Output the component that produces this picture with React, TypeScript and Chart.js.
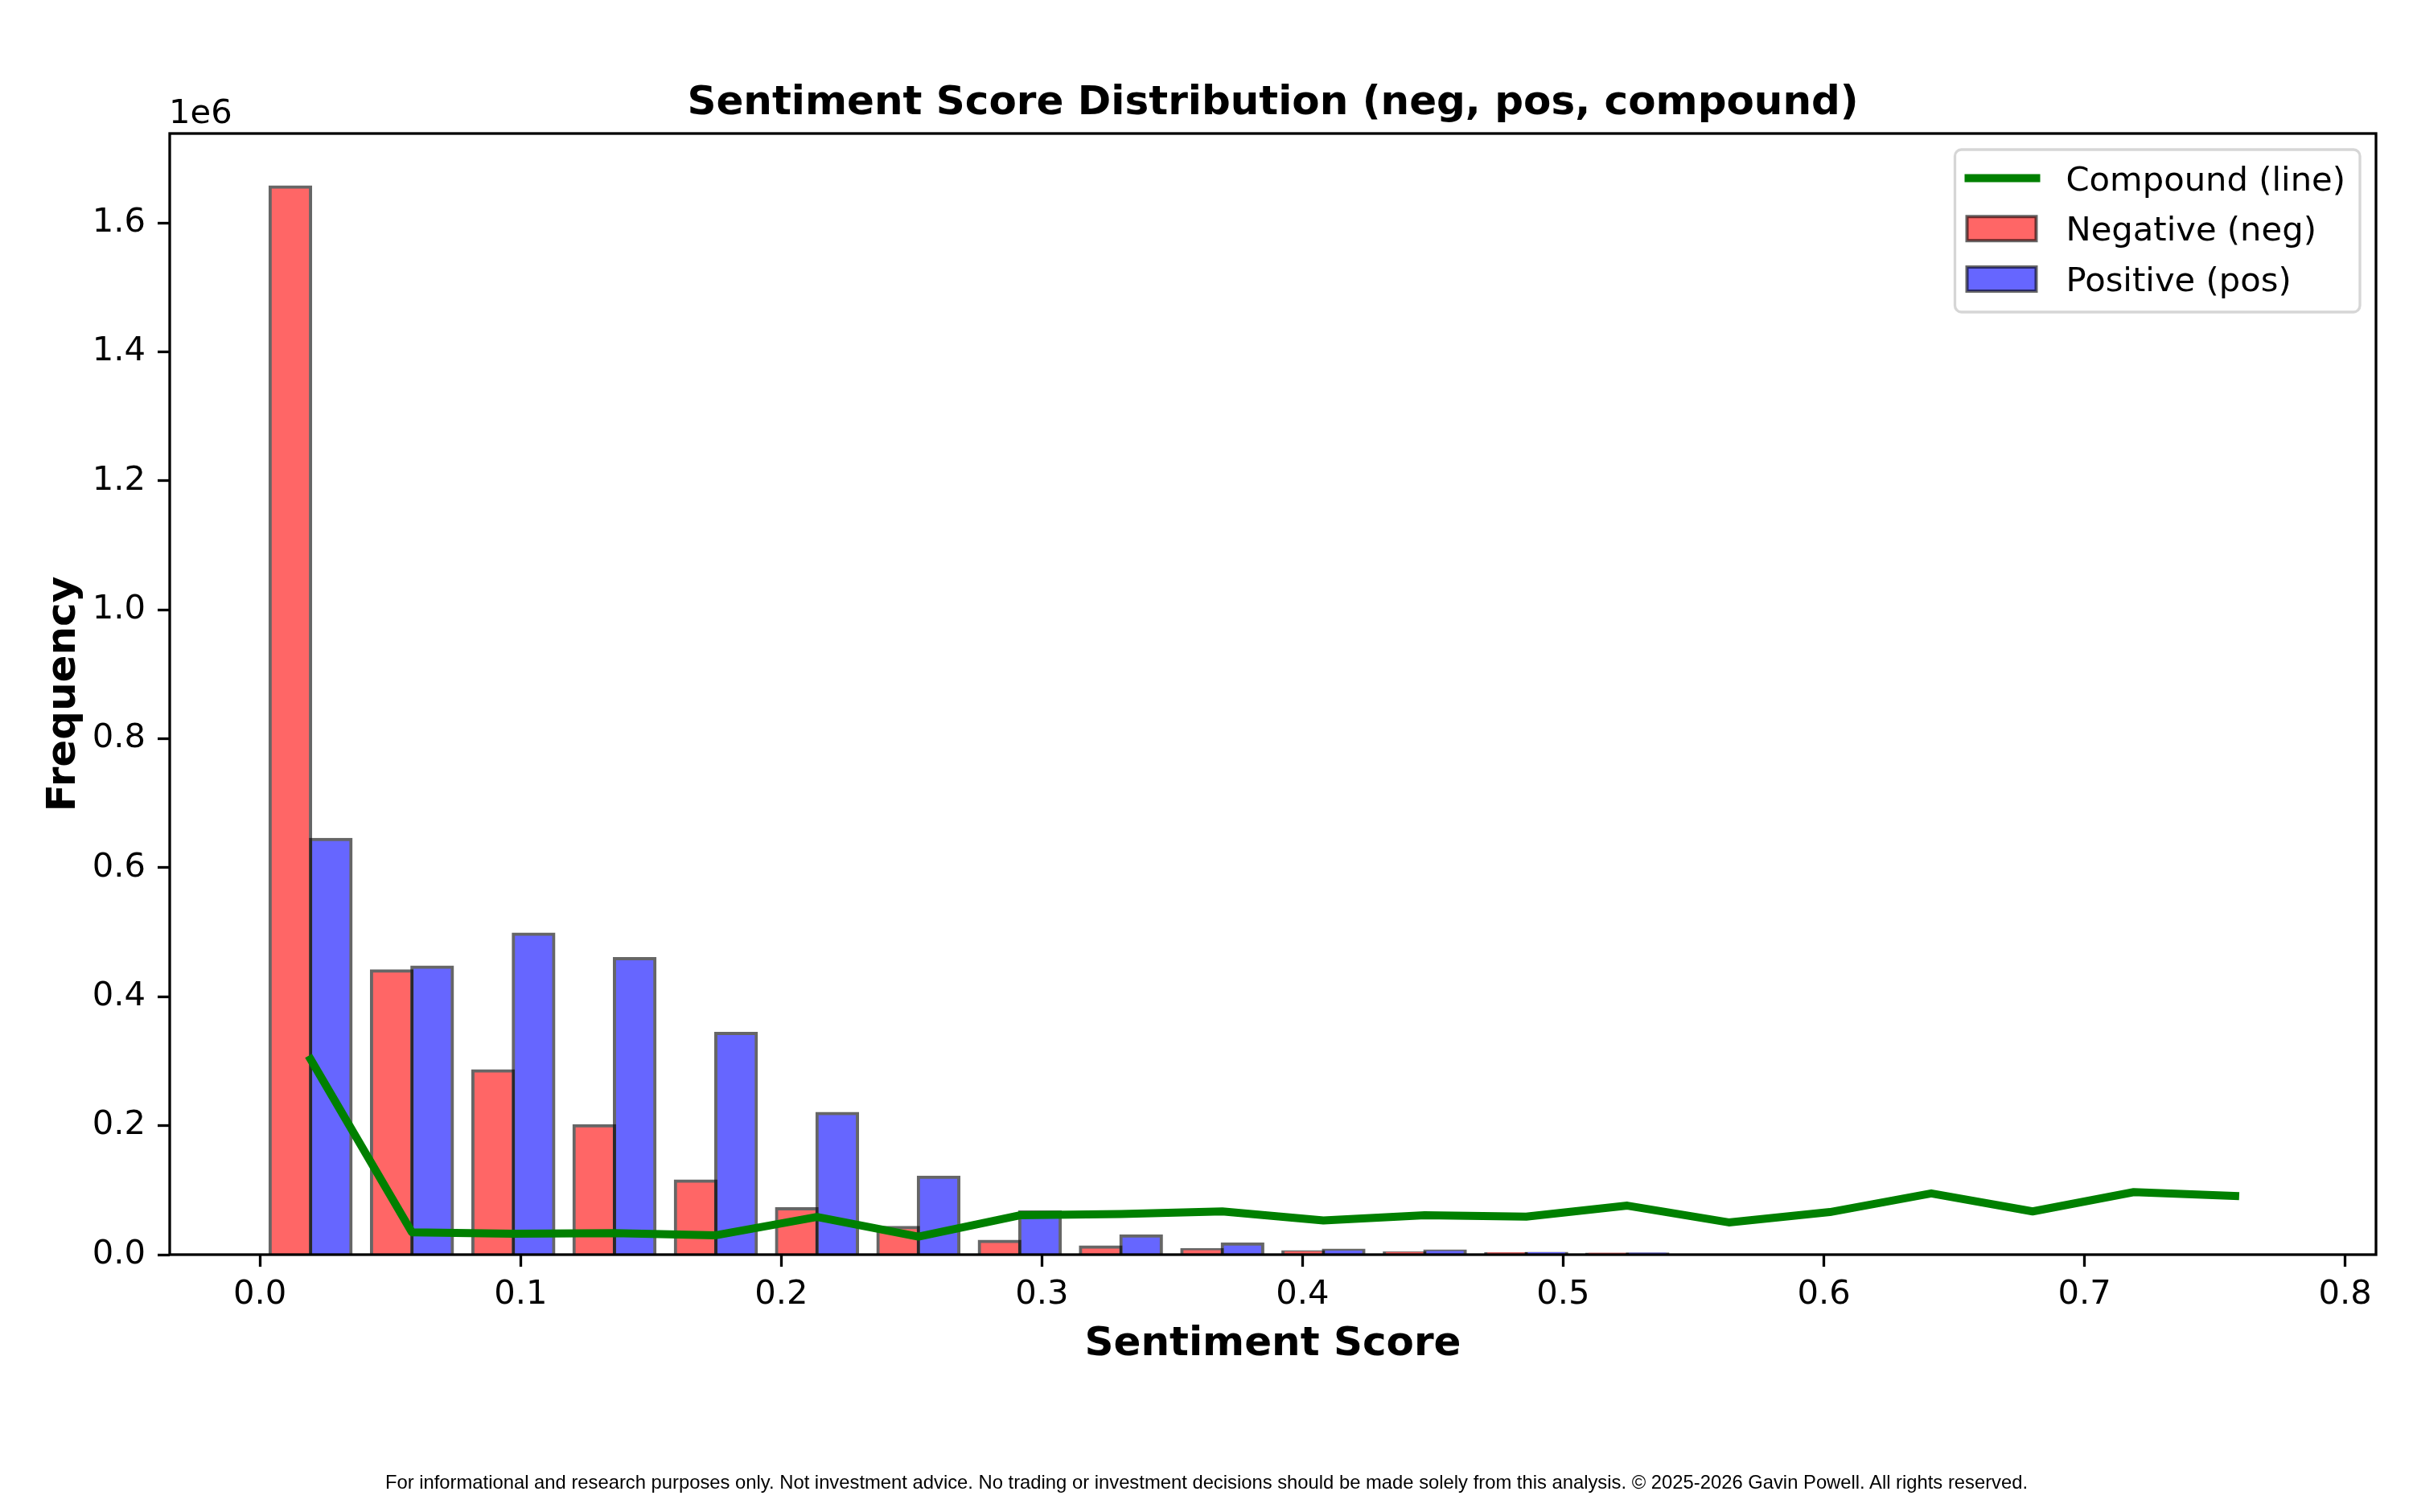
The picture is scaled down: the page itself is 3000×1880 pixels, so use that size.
import { useEffect, useRef } from "react"
import { Chart, registerables } from "chart.js"

Chart.register(...registerables)

// histogram bin centres (20 bins over the sentiment score range)
const binCenters = [
  0.0194, 0.0583, 0.0972, 0.1360, 0.1749, 0.2137, 0.2526, 0.2915, 0.3303, 0.3692,
  0.4080, 0.4469, 0.4858, 0.5246, 0.5635, 0.6023, 0.6412, 0.6801, 0.7189, 0.7578,
]
const negCounts = [
  1656000, 440000, 285000, 200000, 114000, 71000, 42000, 20500, 12000, 7800,
  4300, 2500, 1300, 700, 400, 250, 150, 100, 60, 40,
]
const posCounts = [
  644000, 446000, 497000, 459000, 343000, 219000, 120000, 66000, 29000, 16500,
  6800, 5500, 2000, 900, 500, 300, 200, 120, 80, 50,
]
const compoundCounts = [
  303000, 34500, 32500, 33500, 30000, 58500, 28000, 61000, 63000, 67000,
  53000, 61000, 59000, 76000, 50000, 66000, 95000, 67000, 97000, 91000,
]
const xTickValues = [0, 0.1, 0.2, 0.3, 0.4, 0.5, 0.6, 0.7, 0.8]
const yTickValues = [0, 200000, 400000, 600000, 800000, 1000000, 1200000, 1400000, 1600000]

const FONT = "'DejaVu Sans'"
const TICK_PX = 41.7

const binWidth = binCenters[1] - binCenters[0]
const dataLo = binCenters[0] - 0.4 * binWidth
const dataHi = binCenters[binCenters.length - 1] + 0.4 * binWidth
const xPad = 0.05 * (dataHi - dataLo)
const yMax = Math.max(...negCounts, ...posCounts) * 1.05

const toXY = (vals: number[]) => vals.map((y, i) => ({ x: binCenters[i], y }))

// spines, the "1e6" offset label and a matplotlib-like legend
const mplDecor = {
  id: "mplDecor",
  afterDraw(chart: any) {
    const { ctx, chartArea: a } = chart
    ctx.save()
    ctx.strokeStyle = "#000"
    ctx.lineWidth = 3.3
    ctx.strokeRect(a.left, a.top, a.right - a.left, a.bottom - a.top)

    ctx.fillStyle = "#000"
    ctx.font = `${TICK_PX}px ${FONT}`
    ctx.textAlign = "left"
    ctx.textBaseline = "alphabetic"
    ctx.fillText("1e6", a.left - 1, a.top - 13)

    const items = chart.data.datasets
    const textOff = 138
    const maxW = Math.max(...items.map((d: any) => ctx.measureText(d.label).width))
    const w = textOff + maxW + 18
    const h = 202
    const bx = a.right - 20 - w
    const by = a.top + 20
    ctx.beginPath()
    ctx.roundRect(bx, by, w, h, 8)
    ctx.fillStyle = "rgba(255,255,255,0.8)"
    ctx.fill()
    ctx.strokeStyle = "#d6d6d6"
    ctx.lineWidth = 3.3
    ctx.stroke()

    items.forEach((d: any, i: number) => {
      const cy = by + 35.5 + i * 62.75
      if (d.type === "line") {
        ctx.beginPath()
        ctx.moveTo(bx + 12, cy)
        ctx.lineTo(bx + 106, cy)
        ctx.strokeStyle = d.borderColor
        ctx.lineWidth = d.borderWidth
        ctx.lineCap = "butt"
        ctx.stroke()
      } else {
        ctx.fillStyle = d.backgroundColor
        ctx.fillRect(bx + 15, cy - 15, 86, 30)
        ctx.strokeStyle = d.borderColor
        ctx.lineWidth = 4
        ctx.strokeRect(bx + 15, cy - 15, 86, 30)
      }
      ctx.fillStyle = "#000"
      ctx.fillText(d.label, bx + textOff, cy + 15.2)
    })
    ctx.restore()
  },
}

export default function App() {
  const canvasRef = useRef<HTMLCanvasElement>(null)

  useEffect(() => {
    const canvas = canvasRef.current
    if (canvas == null) return
    Chart.defaults.font.family = FONT
    Chart.defaults.color = "#000"
    const tickGrid = {
      drawOnChartArea: false,
      drawTicks: true,
      tickLength: 15,
      tickWidth: 3.3,
      tickColor: "#000",
      offset: false,
    }
    const chart = new Chart(canvas, {
      type: "bar",
      data: {
        datasets: [
          {
            type: "line",
            label: "Compound (line)",
            data: toXY(compoundCounts),
            borderColor: "#008000",
            borderWidth: 10,
            pointRadius: 0,
            fill: false,
            tension: 0,
            borderJoinStyle: "round",
            borderCapStyle: "square",
          } as any,
          {
            type: "bar",
            label: "Negative (neg)",
            data: toXY(negCounts),
            backgroundColor: "#ff6666",
            borderColor: "rgba(0,0,0,0.6)",
            borderWidth: 4,
            borderSkipped: "start",
            inflateAmount: 2,
            categoryPercentage: 0.8,
            barPercentage: 1,
          },
          {
            type: "bar",
            label: "Positive (pos)",
            data: toXY(posCounts),
            backgroundColor: "#6666ff",
            borderColor: "rgba(0,0,0,0.6)",
            borderWidth: 4,
            borderSkipped: "start",
            inflateAmount: 2,
            categoryPercentage: 0.8,
            barPercentage: 1,
          },
        ],
      },
      options: {
        responsive: false,
        animation: false,
        devicePixelRatio: 1,
        layout: { padding: { left: 50, right: 46, top: 0, bottom: 178 } },
        plugins: {
          legend: { display: false },
          tooltip: { enabled: false },
          title: {
            display: true,
            fullSize: false,
            text: "Sentiment Score Distribution (neg, pos, compound)",
            font: { size: 50, weight: "bold", family: FONT, lineHeight: 1.2 },
            padding: { top: 99.5, bottom: 6.5 },
            color: "#000",
          },
        },
        scales: {
          x: {
            type: "linear",
            offset: false,
            min: dataLo - xPad,
            max: dataHi + xPad,
            grid: tickGrid,
            border: { display: false },
            afterBuildTicks: (scale: any) => {
              scale.ticks = xTickValues.map((value) => ({ value }))
            },
            afterFit: (scale: any) => {
              scale.height = 142
            },
            ticks: {
              padding: 10,
              maxRotation: 0,
              autoSkip: false,
              font: { size: TICK_PX, family: FONT },
              callback: (v: any) => Number(v).toFixed(1),
            },
            title: {
              display: true,
              text: "Sentiment Score",
              font: { size: 50, weight: "bold", family: FONT, lineHeight: 1.2 },
              padding: 0,
            },
          },
          y: {
            type: "linear",
            min: 0,
            max: yMax,
            grid: tickGrid,
            border: { display: false },
            afterBuildTicks: (scale: any) => {
              scale.ticks = yTickValues.map((value) => ({ value }))
            },
            afterFit: (scale: any) => {
              scale.width = 161
            },
            ticks: {
              padding: 15,
              autoSkip: false,
              font: { size: TICK_PX, family: FONT },
              callback: (v: any) => (Number(v) / 1e6).toFixed(1),
            },
            title: {
              display: true,
              text: "Frequency",
              font: { size: 50, weight: "bold", family: FONT, lineHeight: 1.2 },
              padding: 0,
            },
          },
        },
      },
      plugins: [mplDecor],
    })
    return () => chart.destroy()
  }, [canvasRef])

  return (
    <div style={{ position: "absolute", left: 0, top: 0, width: 3000, height: 1880, background: "#fff" }}>
      <canvas ref={canvasRef} width={3000} height={1880} style={{ display: "block" }} />
      <div
        style={{
          position: "absolute",
          left: 0,
          top: 1831,
          width: 3000,
          textAlign: "center",
          fontFamily: "'Liberation Sans', Arial, sans-serif",
          fontSize: "23.8px",
          lineHeight: "23.8px",
          color: "#000",
          whiteSpace: "nowrap",
        }}
      >
        For informational and research purposes only. Not investment advice. No trading or investment decisions should be made solely from this analysis. © 2025-2026 Gavin Powell. All rights reserved.
      </div>
    </div>
  )
}
